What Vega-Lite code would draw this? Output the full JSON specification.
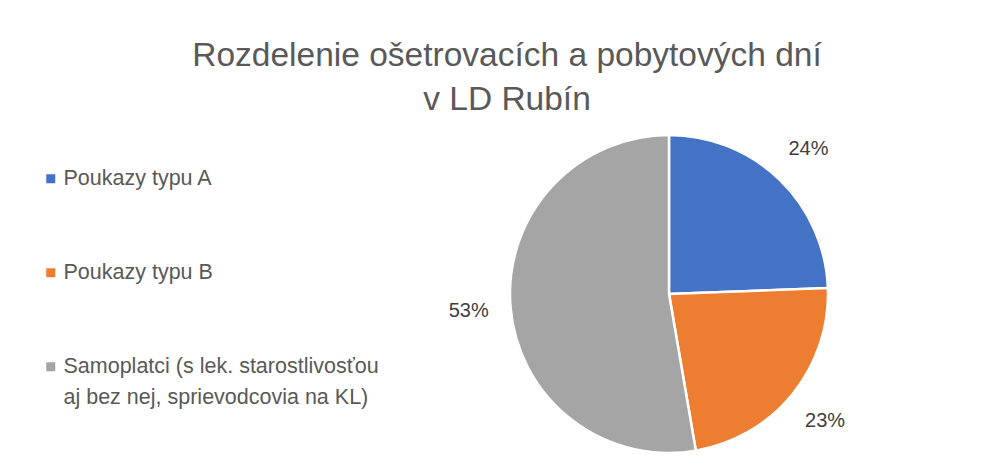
{
  "$schema": "https://vega.github.io/schema/vega-lite/v6.json",
  "autosize": {"type": "none"},
  "width": 318,
  "height": 318,
  "padding": {"left": 510, "top": 135, "right": 160, "bottom": 12},
  "background": "white",
  "title": {
    "text": ["Rozdelenie ošetrovacích a pobytových dní", "v LD Rubín"],
    "font": "Liberation Sans",
    "fontSize": 33.5,
    "fontWeight": "normal",
    "color": "#595959",
    "anchor": "middle",
    "lineHeight": 44,
    "dx": -162,
    "offset": 13
  },
  "data": {
    "values": [
      {"category": "Poukazy typu A", "share": 0.244, "order": 1},
      {"category": "Poukazy typu B", "share": 0.229, "order": 2},
      {"category": "Samoplatci (s lek. starostlivosťou aj bez nej, sprievodcovia na KL)", "share": 0.527, "order": 3}
    ]
  },
  "encoding": {
    "theta": {"field": "share", "type": "quantitative", "stack": true},
    "order": {"field": "order", "type": "quantitative"}
  },
  "layer": [
    {
      "mark": {"type": "arc", "outerRadius": 159, "stroke": "white", "strokeWidth": 2.5},
      "encoding": {
        "color": {
          "field": "category",
          "type": "nominal",
          "scale": {"range": ["#4472C4", "#ED7D31", "#A5A5A5"]},
          "legend": {
            "title": null,
            "orient": "none",
            "legendX": -470,
            "legendY": 33,
            "symbolType": "square",
            "symbolSize": 81,
            "symbolStrokeWidth": 0,
            "labelFont": "Liberation Sans",
            "labelFontSize": 21.5,
            "labelColor": "#595959",
            "labelLimit": 600,
            "labelOffset": 2,
            "labelBaseline": "middle",
            "rowPadding": 71,
            "padding": 0,
            "labelExpr": "datum.label == 'Samoplatci (s lek. starostlivosťou aj bez nej, sprievodcovia na KL)' ? ['Samoplatci (s lek. starostlivosťou', 'aj bez nej, sprievodcovia na KL)'] : datum.label"
          }
        }
      }
    },
    {
      "mark": {"type": "text", "radius": 201, "font": "Liberation Sans", "fontSize": 20, "color": "#404040"},
      "encoding": {
        "text": {"field": "share", "type": "quantitative", "format": ".0%"}
      }
    }
  ],
  "config": {
    "view": {"stroke": null},
    "style": {"guide-label": {"lineHeight": 31}}
  }
}
